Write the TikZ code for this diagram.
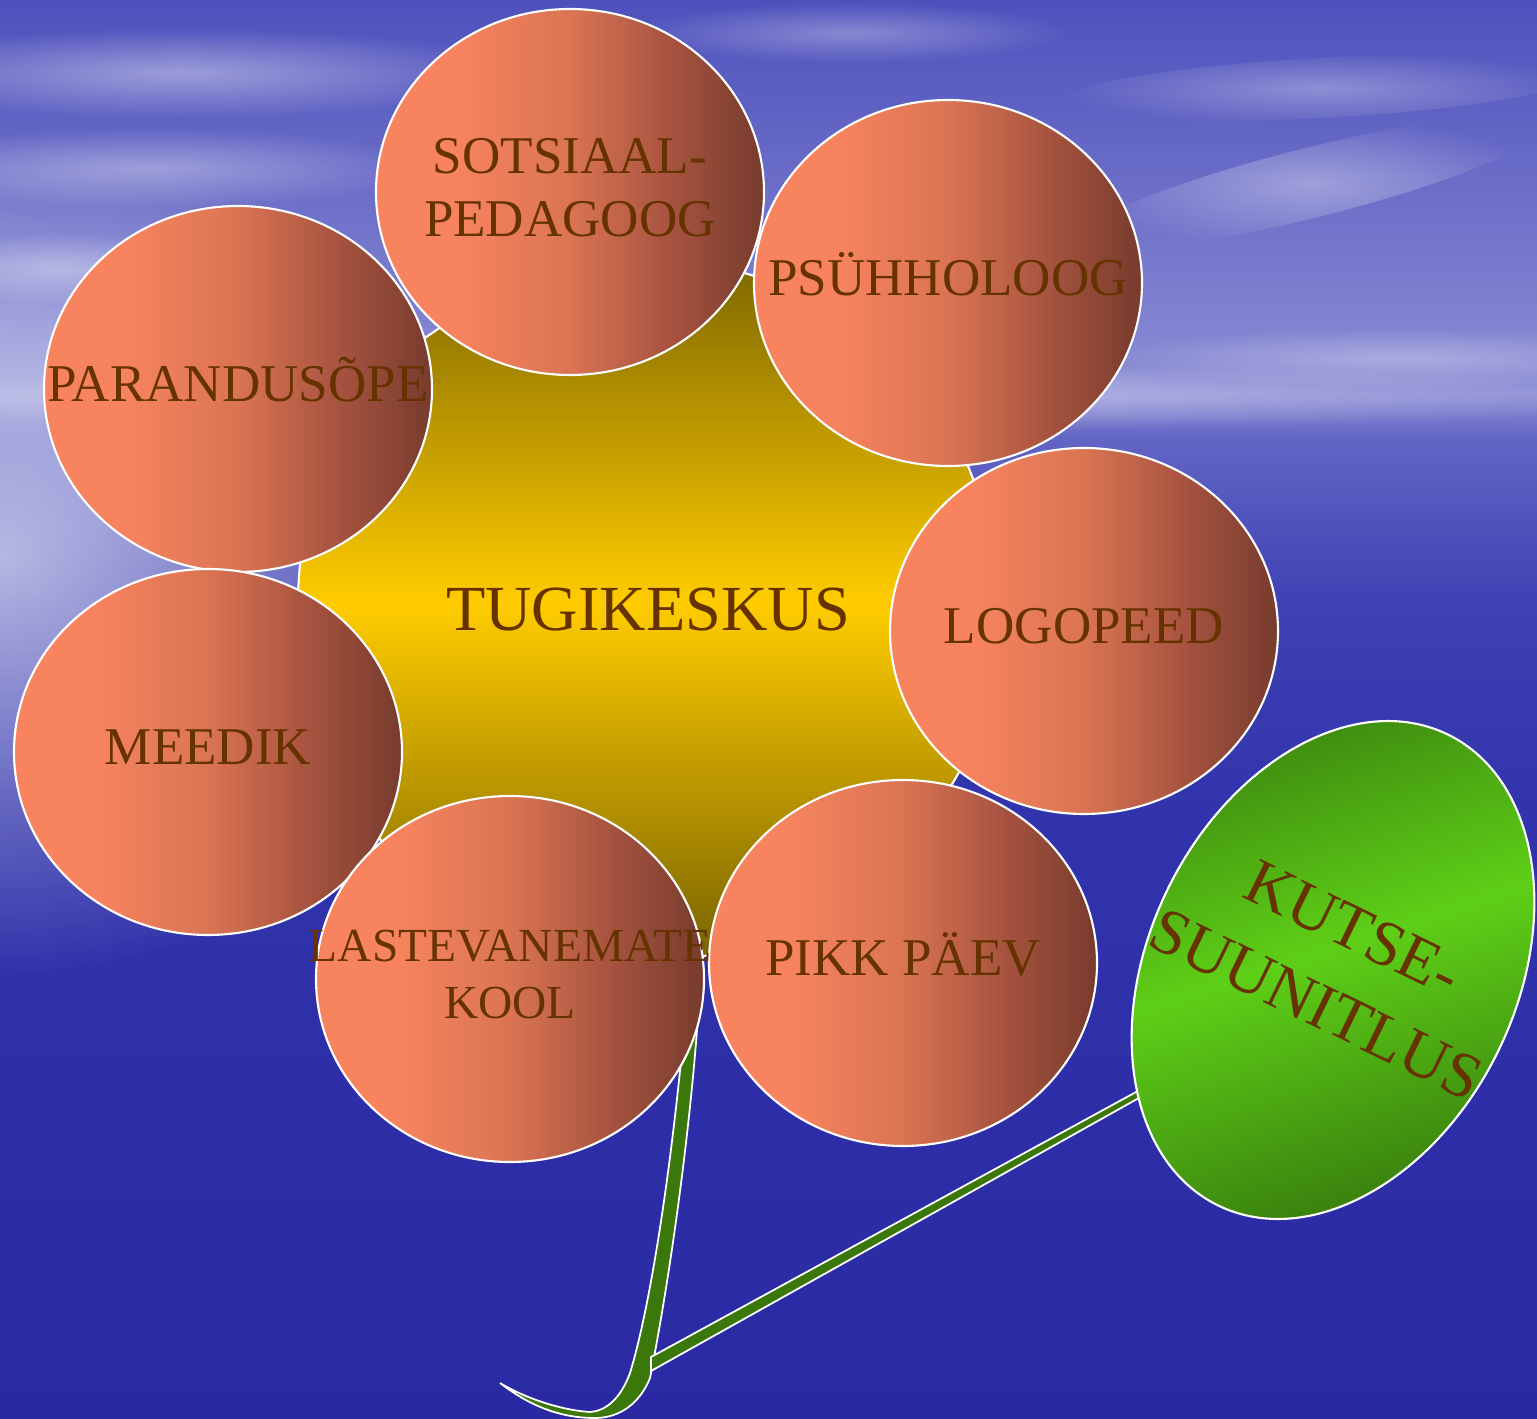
\documentclass[tikz,border=0pt]{standalone}
\usepackage{fontspec}
\setmainfont{Liberation Serif}
\usetikzlibrary{shapes.geometric,fadings}

\definecolor{skytop}{HTML}{4E51BC}
\definecolor{skylow}{HTML}{8E90D6}
\definecolor{seahor}{HTML}{8A8CD4}
\definecolor{seaupper}{HTML}{6265C4}
\definecolor{seaA}{HTML}{3F42B3}
\definecolor{seamid}{HTML}{3134AC}
\definecolor{seabot}{HTML}{2A29A3}
\definecolor{petalL}{HTML}{F8845F}
\definecolor{petalM}{HTML}{DA7453}
\definecolor{petalN}{HTML}{A85440}
\definecolor{petalR}{HTML}{773B2D}
\definecolor{hubdark}{HTML}{705C00}
\definecolor{hubyel}{HTML}{FFCC00}
\definecolor{leafdark}{HTML}{3A820E}
\definecolor{leaflight}{HTML}{5ECF17}
\definecolor{stemgreen}{HTML}{3A780C}
\definecolor{txtbrown}{HTML}{663300}

\tikzfading[name=soft, inner color=transparent!0, outer color=transparent!100]
\pgfdeclarehorizontalshading{petalshade}{100bp}{color(0bp)=(petalL); color(35bp)=(petalL);
  color(50bp)=(petalM); color(62.5bp)=(petalN); color(75bp)=(petalR); color(100bp)=(petalR)}
\pgfdeclareverticalshading{seashade}{100bp}{color(0bp)=(seabot); color(25bp)=(seabot);
  color(55bp)=(seamid); color(65bp)=(seaA); color(73bp)=(seaupper); color(75bp)=(seahor);
  color(100bp)=(seahor)}

\newcommand{\lines}[1]{\raisebox{-1.4pt}{\makebox[0pt]{\begin{tabular}{@{}c@{}}#1\end{tabular}}}}

\begin{document}
\begin{tikzpicture}[
  x=0.1mm, y=0.1mm,
  petal/.style={ellipse, draw=white, line width=0.6pt, inner sep=0pt,
                minimum width=38.8mm, minimum height=36.6mm, shading=petalshade,
                text=txtbrown, font=\fontsize{15.1}{17.9}\selectfont},
  hub/.style={regular polygon, regular polygon sides=7, shape border rotate=8.6,
              minimum size=77.8mm, inner sep=0pt, draw=white, line width=0.6pt,
              top color=hubdark, bottom color=hubdark, middle color=hubyel,
              text=txtbrown, font=\fontsize{18.3}{21}\selectfont},
  leaf/.style={ellipse, draw=white, line width=0.6pt, inner sep=0pt,
               minimum width=36.8mm, minimum height=52.4mm,
               top color=leafdark, bottom color=leafdark, middle color=leaflight,
               shading angle=18,
               text=txtbrown, font=\fontsize{18.4}{24}\selectfont},
  stem/.style={fill=stemgreen, draw=white, line width=0.5pt},
  cloud/.style={white, path fading=soft}
]
\useasboundingbox (0,0) rectangle (1537,1418);
% Background: sky and sea
\begin{scope}
  \clip (0,0) rectangle (1537,1418);
  \shade[top color=skytop, bottom color=skylow] (0,1010) rectangle (1537,1418);
  \shade[shading=seashade] (0,0) rectangle (1537,1021);
  \fill[cloud, opacity=0.6]  (0,860) ellipse (480 and 420);
  \fill[cloud, opacity=0.4]  (768,1021) ellipse (950 and 35);
  \fill[cloud, opacity=0.4]  (180,1345) ellipse (340 and 45);
  \fill[cloud, opacity=0.35] (150,1250) ellipse (280 and 40);
  \fill[cloud, opacity=0.35] (60,1150) ellipse (170 and 35);
  \fill[cloud, opacity=0.3]  (850,1385) ellipse (220 and 30);
  \fill[cloud, opacity=0.3, rotate around={3:(1320,1330)}] (1320,1330) ellipse (260 and 30);
  \fill[cloud, opacity=0.35, rotate around={14:(1310,1235)}] (1310,1235) ellipse (240 and 35);
  \fill[cloud, opacity=0.3]  (1400,1060) ellipse (300 and 30);
\end{scope}
% Centre of the flower
\node[hub] (hub) at (648,808) {TUGIKESKUS};
% Stems
\path[stem] (686,410) .. controls (672,250) and (650,110) .. (630,45)
  .. controls (620,18) and (605,7) .. (590,6)
  .. controls (560,8) and (525,20) .. (500,35)
  .. controls (530,12) and (560,0) .. (595,0)
  .. controls (620,0) and (640,15) .. (650,40)
  .. controls (668,130) and (690,280) .. (699,415) -- cycle;
\path[stem] (651,61) -- (1180,350) -- (1180,343) -- (651,47) -- cycle;
% Petals
\node[petal] (sots)   at (570,1226) {\lines{SOTSIAAL-\\PEDAGOOG}};
\node[petal] (psyh)   at (948,1135) {\lines{PSÜHHOLOOG}};
\node[petal] (logo)   at (1084,787) {\lines{LOGOPEED}};
\node[petal] (pikk)   at (903,455)  {\lines{PIKK PÄEV}};
\node[petal] (parand) at (238,1029) {\lines{PARANDUSÕPE}};
\node[petal] (meedik) at (208,666)  {\lines{MEEDIK}};
\node[petal, font=\fontsize{13.5}{16.2}\selectfont] (laste) at (510,439)
  {\lines{LASTEVANEMATE\\KOOL}};
% Leaf
\node[leaf, rotate=-26] (kutse) at (1333,448) {\lines{KUTSE-\\SUUNITLUS}};
\end{tikzpicture}
\end{document}
